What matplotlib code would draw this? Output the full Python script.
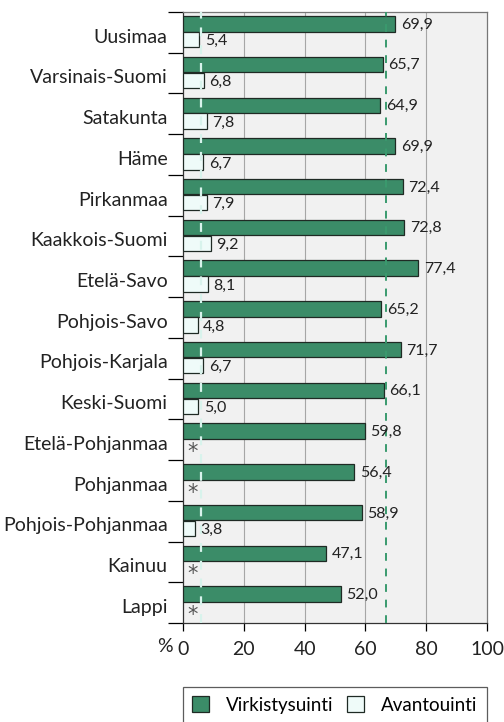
import matplotlib.pyplot as plt
import numpy as np

# alueet ja arvot (%)
regions = ['Uusimaa', 'Varsinais-Suomi', 'Satakunta', 'Häme', 'Pirkanmaa',
           'Kaakkois-Suomi', 'Etelä-Savo', 'Pohjois-Savo', 'Pohjois-Karjala',
           'Keski-Suomi', 'Etelä-Pohjanmaa', 'Pohjanmaa', 'Pohjois-Pohjanmaa',
           'Kainuu', 'Lappi']
virkistys = [69.9, 65.7, 64.9, 69.9, 72.4, 72.8, 77.4, 65.2, 71.7, 66.1,
             59.8, 56.4, 58.9, 47.1, 52.0]
avanto = [5.4, 6.8, 7.8, 6.7, 7.9, 9.2, 8.1, 4.8, 6.7, 5.0,
          None, None, 3.8, None, None]
avg_virkistys = 66.8
avg_avanto = 5.9

green = '#3b8c68'
light = '#effbf9'
font = 'Lato'

fig = plt.figure(figsize=(5.04, 7.22), dpi=100)
ax = fig.add_axes([183/504, 1 - 623/722, (487-183)/504, (623-12)/722])
ax.set_facecolor('#f1f1f1')

n = len(regions)
centers = np.arange(n)
bh = 0.38

for i in range(n):
    ax.barh(i - 0.21, virkistys[i], height=bh, color=green, edgecolor='#1f2a24', linewidth=0.9, zorder=3)
    ax.text(virkistys[i] + 1.8, i - 0.19, f'{virkistys[i]:.1f}'.replace('.', ','),
            va='center', ha='left', fontsize=11.5, family=font, color='#222222', zorder=5)
    if avanto[i] is not None:
        ax.barh(i + 0.18, avanto[i], height=bh, color=light, edgecolor='#1f2a24', linewidth=0.9, zorder=3)
        ax.text(avanto[i] + 1.8, i + 0.22, f'{avanto[i]:.1f}'.replace('.', ','),
                va='center', ha='left', fontsize=11.5, family=font, color='#222222', zorder=5)
    else:
        ax.text(1.6, i + 0.3, '*', va='center', ha='left', fontsize=15, family='DejaVu Sans',
                color='#555555', zorder=5)

# keskiarvoviivat
ax.axvline(avg_virkistys, color='#3a9a6e', linestyle=(0, (4, 4)), linewidth=1.4, zorder=4)
ax.axvline(avg_avanto, color='#d8f3ec', linestyle=(0, (4, 4)), linewidth=1.6, zorder=4)

ax.set_xlim(0, 100)
ax.set_ylim(n - 0.5, -0.5)
ax.set_xticks([0, 20, 40, 60, 80, 100])
ax.set_xticklabels(['0', '20', '40', '60', '80', '100'], family=font, fontsize=14, color='#222222')
ax.tick_params(axis='x', direction='out', length=6, width=0.9, pad=7)
for x in [20, 40, 60, 80]:
    ax.axvline(x, color='#a6a6a6', linewidth=0.8, zorder=1)

ax.set_yticks(centers + 0.08)
ax.set_yticklabels(regions, family=font, fontsize=14, color='#222222')
ax.set_yticks(np.arange(n + 1) - 0.5, minor=True)
ax.tick_params(axis='y', which='major', length=0, pad=11)
ax.tick_params(axis='y', which='minor', direction='out', length=11, width=0.9)

for s in ['left', 'bottom']:
    ax.spines[s].set_linewidth(0.9)
    ax.spines[s].set_color('#333333')
for s in ['top', 'right']:
    ax.spines[s].set_linewidth(0.9)
    ax.spines[s].set_color('#777777')

fig.text(165/504, 1 - 646/722, '%', family=font, fontsize=14, color='#222222', ha='center', va='center')

handles = [plt.Rectangle((0, 0), 1, 1, facecolor=green, edgecolor='#1f2a24', linewidth=0.9),
           plt.Rectangle((0, 0), 1, 1, facecolor=light, edgecolor='#1f2a24', linewidth=0.9)]
leg = fig.legend(handles, ['Virkistysuinti', 'Avantouinti'], loc='upper left',
                 bbox_to_anchor=(183/504, 1 - 687/722, (487-183)/504, 0), mode='expand',
                 ncol=2, frameon=True, fancybox=False,
                 prop={'family': font, 'size': 13.5}, handlelength=0.9, handleheight=0.9,
                 columnspacing=1.2, handletextpad=0.9, borderpad=0.5, borderaxespad=0)
leg.get_frame().set_edgecolor('#333333')
leg.get_frame().set_linewidth(0.9)

fig.savefig('out.png', dpi=100)
